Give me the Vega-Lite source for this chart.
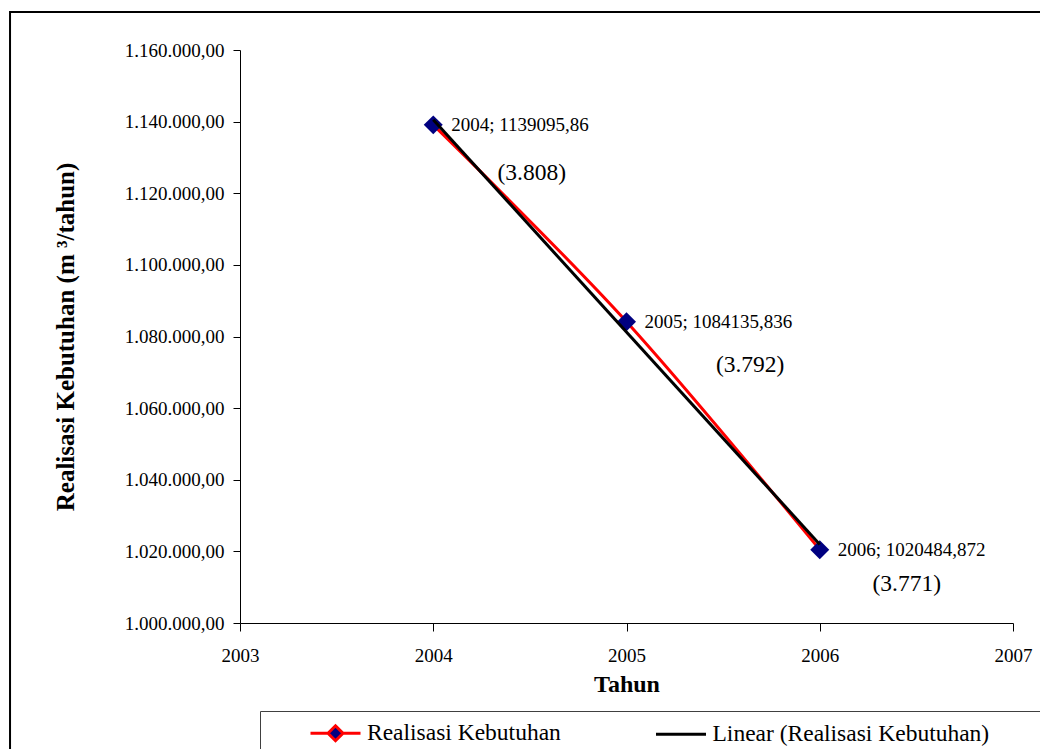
{
  "$schema": "https://vega.github.io/schema/vega-lite/v6.json",
  "width": 773,
  "height": 573,
  "autosize": {"type": "none"},
  "padding": {"left": 240, "top": 50, "right": 27, "bottom": 126},
  "background": "white",
  "datasets": {
    "seri": [
      {"tahun": 2004, "nilai": 1139095.86, "seri": "Realisasi Kebutuhan", "label": "2004; 1139095,86"},
      {"tahun": 2005, "nilai": 1084135.836, "seri": "Realisasi Kebutuhan", "label": "2005; 1084135,836"},
      {"tahun": 2006, "nilai": 1020484.872, "seri": "Realisasi Kebutuhan", "label": "2006; 1020484,872"},
      {"tahun": 2004, "nilai": 1140544.35, "seri": "Linear (Realisasi Kebutuhan)", "label": ""},
      {"tahun": 2006, "nilai": 1021933.36, "seri": "Linear (Realisasi Kebutuhan)", "label": ""}
    ],
    "catatan": [
      {"tahun": 2004.51, "nilai": 1125650, "teks": "(3.808)"},
      {"tahun": 2005.64, "nilai": 1072040, "teks": "(3.792)"},
      {"tahun": 2006.45, "nilai": 1010890, "teks": "(3.771)"}
    ]
  },
  "layer": [
    {
      "data": {"values": [{}]},
      "mark": {"type": "rect", "fill": "transparent", "stroke": "#000000", "strokeWidth": 2, "clip": false},
      "encoding": {
        "x": {"datum": 2001.81, "type": "quantitative"},
        "x2": {"datum": 2007.3},
        "y": {"datum": 1170611, "type": "quantitative"},
        "y2": {"datum": 956160}
      }
    },
    {
      "data": {"name": "seri"},
      "transform": [{"filter": "datum.seri === 'Realisasi Kebutuhan'"}],
      "mark": {"type": "line", "interpolate": "cardinal", "strokeWidth": 3},
      "encoding": {
        "x": {
          "field": "tahun", "type": "quantitative",
          "scale": {"domain": [2003, 2007], "nice": false, "zero": false},
          "axis": {
            "values": [2003, 2004, 2005, 2006, 2007], "format": "d", "title": "Tahun",
            "grid": false, "tickSize": 8, "labelPadding": 15, "titlePadding": 7,
            "labelFont": "Liberation Serif", "labelFontSize": 19, "labelColor": "#000000",
            "titleFont": "Liberation Serif", "titleFontSize": 24, "titleFontWeight": "bold", "titleColor": "#000000",
            "domainColor": "#000000", "tickColor": "#000000", "labelFlush": false
          }
        },
        "y": {
          "field": "nilai", "type": "quantitative",
          "scale": {"domain": [1000000, 1160000], "nice": false, "zero": false},
          "axis": {
            "values": [1000000, 1020000, 1040000, 1060000, 1080000, 1100000, 1120000, 1140000, 1160000],
            "format": ",.2f", "title": "Realisasi Kebutuhan (m  ³/tahun)",
            "grid": false, "tickSize": 7, "labelPadding": 9, "titlePadding": 46,
            "labelFont": "Liberation Serif", "labelFontSize": 19, "labelColor": "#000000",
            "titleFont": "Liberation Serif", "titleFontSize": 25, "titleFontWeight": "bold", "titleColor": "#000000",
            "domainColor": "#000000", "tickColor": "#000000", "labelFlush": false
          }
        },
        "color": {
          "field": "seri", "type": "nominal",
          "scale": {"domain": ["Realisasi Kebutuhan", "Linear (Realisasi Kebutuhan)"], "range": ["#FF0000", "#000000"]},
          "legend": {
            "orient": "none", "legendX": 20, "legendY": 661, "direction": "horizontal", "title": null,
            "strokeColor": "#404040", "padding": 8, "fillColor": "white",
            "labelFont": "Liberation Serif", "labelFontSize": 23.5, "labelColor": "#000000", "labelLimit": 0,
            "symbolType": "M-2,0H2", "symbolSize": 625, "symbolStrokeWidth": 3,
            "symbolOffset": 53.5, "labelOffset": 17.5, "columnPadding": 52.5,
            "encode": {
              "symbols": {
                "update": {
                  "shape": {"signal": "datum.value === 'Realisasi Kebutuhan' ? 'M-2,0H-0.6M0.6,0H2M-0.6,0L0,-0.6L0.6,0L0,0.6Z' : 'M-2,0H2M28.6,0'"},
                  "fill": {"signal": "datum.value === 'Realisasi Kebutuhan' ? '#000080' : 'transparent'"}
                }
              },
              "legend": {"update": {"strokeWidth": {"value": 1}}}
            }
          }
        }
      }
    },
    {
      "data": {"name": "seri"},
      "transform": [{"filter": "datum.seri === 'Realisasi Kebutuhan'"}],
      "mark": {"type": "point", "shape": "diamond", "filled": true, "size": 360, "color": "#000080", "opacity": 1},
      "encoding": {
        "x": {"field": "tahun", "type": "quantitative"},
        "y": {"field": "nilai", "type": "quantitative"}
      }
    },
    {
      "data": {"name": "seri"},
      "transform": [{"filter": "datum.seri === 'Linear (Realisasi Kebutuhan)'"}],
      "mark": {"type": "line", "strokeWidth": 3},
      "encoding": {
        "x": {"field": "tahun", "type": "quantitative"},
        "y": {"field": "nilai", "type": "quantitative"},
        "color": {"field": "seri", "type": "nominal"}
      }
    },
    {
      "data": {"name": "seri"},
      "transform": [{"filter": "datum.seri === 'Realisasi Kebutuhan'"}],
      "mark": {"type": "text", "align": "left", "baseline": "middle", "dx": 18, "dy": 0, "font": "Liberation Serif", "fontSize": 19, "color": "#000000"},
      "encoding": {
        "x": {"field": "tahun", "type": "quantitative"},
        "y": {"field": "nilai", "type": "quantitative"},
        "text": {"field": "label"}
      }
    },
    {
      "data": {"name": "catatan"},
      "mark": {"type": "text", "align": "center", "baseline": "middle", "font": "Liberation Serif", "fontSize": 23.5, "color": "#000000"},
      "encoding": {
        "x": {"field": "tahun", "type": "quantitative"},
        "y": {"field": "nilai", "type": "quantitative"},
        "text": {"field": "teks"}
      }
    }
  ],
  "config": {
    "view": {"stroke": null},
    "locale": {"number": {"decimal": ",", "thousands": ".", "grouping": [3], "currency": ["", ""]}}
  }
}
